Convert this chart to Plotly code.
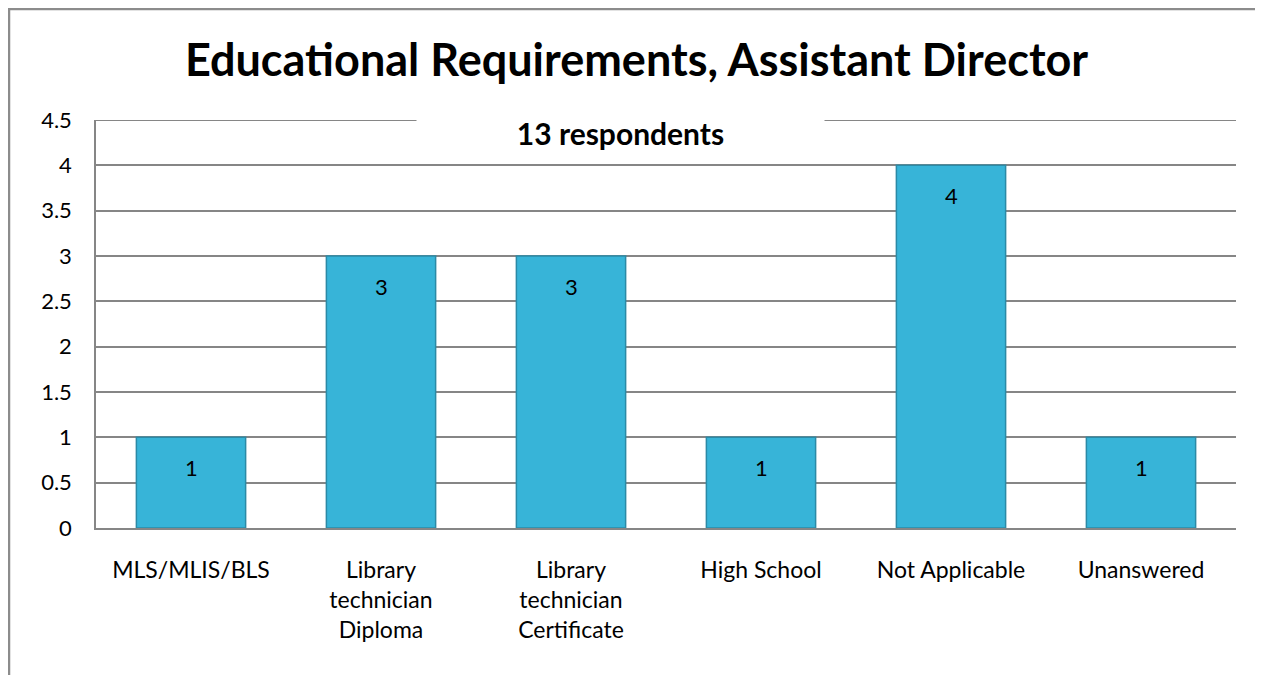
import plotly.graph_objects as go

categories = ["MLS/MLIS/BLS", "Library<br>technician<br>Diploma", "Library<br>technician<br>Certificate",
              "High School", "Not Applicable", "Unanswered"]
counts = [1, 3, 3, 1, 4, 1]
y_ticks = [0, 0.5, 1, 1.5, 2, 2.5, 3, 3.5, 4, 4.5]
y_tick_labels = ["0", "0.5", "1", "1.5", "2", "2.5", "3", "3.5", "4", "4.5"]

FONT = "Lato"
W, H = 1263, 675
L, R, T, B = 88, 35, 112, 155
PW, PH = W - L - R, H - T - B

fig = go.Figure()
fig.add_trace(go.Bar(
    x=categories, y=counts,
    marker=dict(color="#37B4D8", line=dict(color="#2B8AA6", width=1.5)),
    width=0.575, hoverinfo="x+y",
))

for c, v in zip(categories, counts):
    fig.add_annotation(x=c, y=v, text=str(v), showarrow=False, yanchor="middle",
                       yshift=-30, font=dict(family=FONT, size=22, color="black"))

fig.update_layout(
    width=W, height=H,
    margin=dict(l=L, r=R, t=T, b=B),
    paper_bgcolor="white", plot_bgcolor="white",
    showlegend=False,
    font=dict(family=FONT, size=23, color="black"),
    title=dict(text="<b>Educational Requirements, Assistant Director</b>",
               x=628.5 / W, xanchor="center", y=1 - 52 / H, yanchor="middle",
               xref="container", yref="container",
               font=dict(family=FONT, size=45, color="black")),
    xaxis=dict(showgrid=False, showline=True, linecolor="#868686", linewidth=1.5,
               ticks="", tickfont=dict(family=FONT, size=23), ticklabelstandoff=21),
    yaxis=dict(range=[0, 4.5], tickvals=y_ticks, ticktext=y_tick_labels,
               showgrid=True, gridcolor="#868686", gridwidth=1.5,
               showline=True, linecolor="#868686", linewidth=1.5,
               zeroline=False, ticks="", tickfont=dict(family=FONT, size=22),
               ticklabelstandoff=18),
    bargap=0.425,
)

# top gridline (at the range edge) drawn explicitly
fig.add_shape(type="line", xref="paper", yref="y", x0=0, x1=1,
              y0=y_ticks[-1], y1=y_ticks[-1],
              line=dict(color="#868686", width=2), layer="below")

fig.add_annotation(text="<b>13 respondents</b>", xref="paper", yref="paper",
                   x=(620 - 96) / PW, y=(528 - 133) / PH, xanchor="center", yanchor="middle",
                   showarrow=False, bgcolor="white", width=405, height=40,
                   font=dict(family=FONT, size=30, color="black"))

# outer chart border
fig.add_shape(type="rect", xref="paper", yref="paper",
              x0=(1 - L) / PW, x1=1.1, y0=-0.5, y1=1 + (T - 1) / PH,
              line=dict(color="#8C8C8C", width=2.5), fillcolor="rgba(0,0,0,0)", layer="below")

fig.write_html("out.html")
